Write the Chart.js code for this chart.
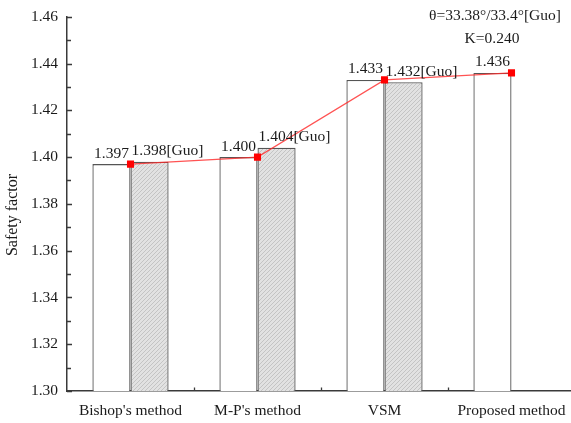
<!DOCTYPE html>
<html>
<head>
<meta charset="utf-8">
<script src="https://cdn.jsdelivr.net/npm/chart.js@4/dist/chart.umd.min.js"></script>
<style>
  html, body { margin: 0; padding: 0; background: #fff; overflow: hidden; }
  #wrap { width: 580px; height: 423px; position: relative; }
  canvas { display: block; }
</style>
</head>
<body>
<div id="wrap"><canvas id="c" width="580" height="423"></canvas></div>
<script>
// Safety factors of the slope by each method
const categories = ["Bishop's method", "M-P's method", "VSM", "Proposed method"];
const presentValues = [1.397, 1.400, 1.433, 1.436];
const guoValues = [1.398, 1.404, 1.432, null];
const yTickLabels = ['1.30', '1.32', '1.34', '1.36', '1.38', '1.40', '1.42', '1.44', '1.46'];
const noteLines = ['θ=33.38°/33.4°[Guo]', 'K=0.240'];
const yTitle = 'Safety factor';

const FONT = 'Liberation Serif, Times New Roman, serif';
const TEXT = '#1a1a1a';
const AXIS = '#3a3a3a';

// diagonal hatch fill for the reference bars
function hatchPattern() {
  const p = document.createElement('canvas');
  p.width = 4; p.height = 4;
  const g = p.getContext('2d');
  g.fillStyle = '#e2e2e2';
  g.fillRect(0, 0, 4, 4);
  g.strokeStyle = '#c4c4c4';
  g.lineWidth = 1;
  g.beginPath();
  g.moveTo(0, 4); g.lineTo(4, 0);
  g.moveTo(-1, 1); g.lineTo(1, -1);
  g.moveTo(3, 5); g.lineTo(5, 3);
  g.stroke();
  return g.createPattern(p, 'repeat');
}
const ctx0 = document.getElementById('c').getContext('2d');

// value labels above bars, inward ticks, axis title and note text
const decorations = {
  id: 'decorations',
  afterDatasetsDraw(chart) {
    const ctx = chart.ctx;
    const y = chart.scales.y, x = chart.scales.x;
    ctx.save();
    ctx.font = '15.5px ' + FONT;
    ctx.fillStyle = TEXT;
    ctx.textBaseline = 'alphabetic';
    const metaP = chart.getDatasetMeta(1);
    const metaG = chart.getDatasetMeta(2);
    metaP.data.forEach((el, i) => {
      ctx.textAlign = 'center';
      ctx.fillText(presentValues[i].toFixed(3), el.x, el.y - 6.5);
    });
    metaG.data.forEach((el, i) => {
      if (guoValues[i] == null) return;
      ctx.textAlign = 'left';
      ctx.fillText(guoValues[i].toFixed(3) + '[Guo]', el.x - el.width / 2 + 1, el.y - 6.5);
    });

    // inward ticks on the value axis (every 0.01)
    ctx.strokeStyle = AXIS;
    ctx.lineWidth = 1.3;
    ctx.beginPath();
    for (let k = 0; k <= 16; k++) {
      const v = 1.30 + k * 0.01;
      const py = Math.round(y.getPixelForValue(v)) + 0.5;
      const len = k % 2 === 0 ? 5 : 4;
      ctx.moveTo(y.right, py);
      ctx.lineTo(y.right + len, py);
    }
    // inward ticks between categories
    for (let i = 0; i < categories.length - 1; i++) {
      const px = Math.round((x.getPixelForTick(i) + x.getPixelForTick(i + 1)) / 2) + 0.5;
      ctx.moveTo(px, x.top);
      ctx.lineTo(px, x.top - 3.5);
    }
    ctx.stroke();

    // axis title
    ctx.save();
    ctx.translate(13, 215);
    ctx.rotate(-Math.PI / 2);
    ctx.textAlign = 'center';
    ctx.textBaseline = 'middle';
    ctx.font = '16px ' + FONT;
    ctx.fillText(yTitle, 0, 0);
    ctx.restore();

    // parameters note
    ctx.textAlign = 'center';
    ctx.font = '15.5px ' + FONT;
    ctx.fillText(noteLines[0], 495, 20);
    ctx.fillText(noteLines[1], 492, 43);
    ctx.restore();
  }
};

new Chart(ctx0, {
  data: {
    labels: categories,
    datasets: [
      {
        type: 'line',
        label: 'Present',
        data: presentValues,
        borderColor: 'rgba(255,40,40,0.8)',
        borderWidth: 1.2,
        pointStyle: 'rect',
        pointRadius: 5,
        pointBackgroundColor: '#ff0000',
        pointBorderColor: '#ff0000',
        pointBorderWidth: 0,
        tension: 0,
        order: 0
      },
      {
        type: 'bar',
        label: 'Present bar',
        data: presentValues,
        backgroundColor: '#ffffff',
        borderColor: '#555',
        borderWidth: 1.3,
        categoryPercentage: 0.6,
        barPercentage: 1.0,
        order: 1
      },
      {
        type: 'bar',
        label: 'Guo',
        data: guoValues,
        backgroundColor: hatchPattern(),
        borderColor: '#555',
        borderWidth: 1.3,
        categoryPercentage: 0.6,
        barPercentage: 1.0,
        order: 2
      }
    ]
  },
  options: {
    responsive: false,
    animation: false,
    devicePixelRatio: 1,
    layout: { padding: { top: 14, right: 0, left: 0, bottom: 0 } },
    plugins: { legend: { display: false }, tooltip: { enabled: false } },
    scales: {
      x: {
        offset: true,
        grid: { display: false, drawTicks: false },
        border: { display: true, color: AXIS, width: 1.5 },
        ticks: { color: TEXT, font: { family: FONT, size: 15.5 }, padding: 11, maxRotation: 0, autoSkip: false },
        afterFit(s) { s.height = 32; }
      },
      y: {
        min: 1.30,
        max: 1.46,
        grid: { display: false, drawTicks: false },
        border: { display: true, color: AXIS, width: 1.5 },
        ticks: {
          stepSize: 0.02,
          padding: 9,
          color: TEXT,
          font: { family: FONT, size: 15.5, lineHeight: 1.0 },
          callback: (v, i) => yTickLabels[i]
        },
        afterFit(s) { s.width = 67; }
      }
    }
  },
  plugins: [decorations]
});
</script>
</body>
</html>
